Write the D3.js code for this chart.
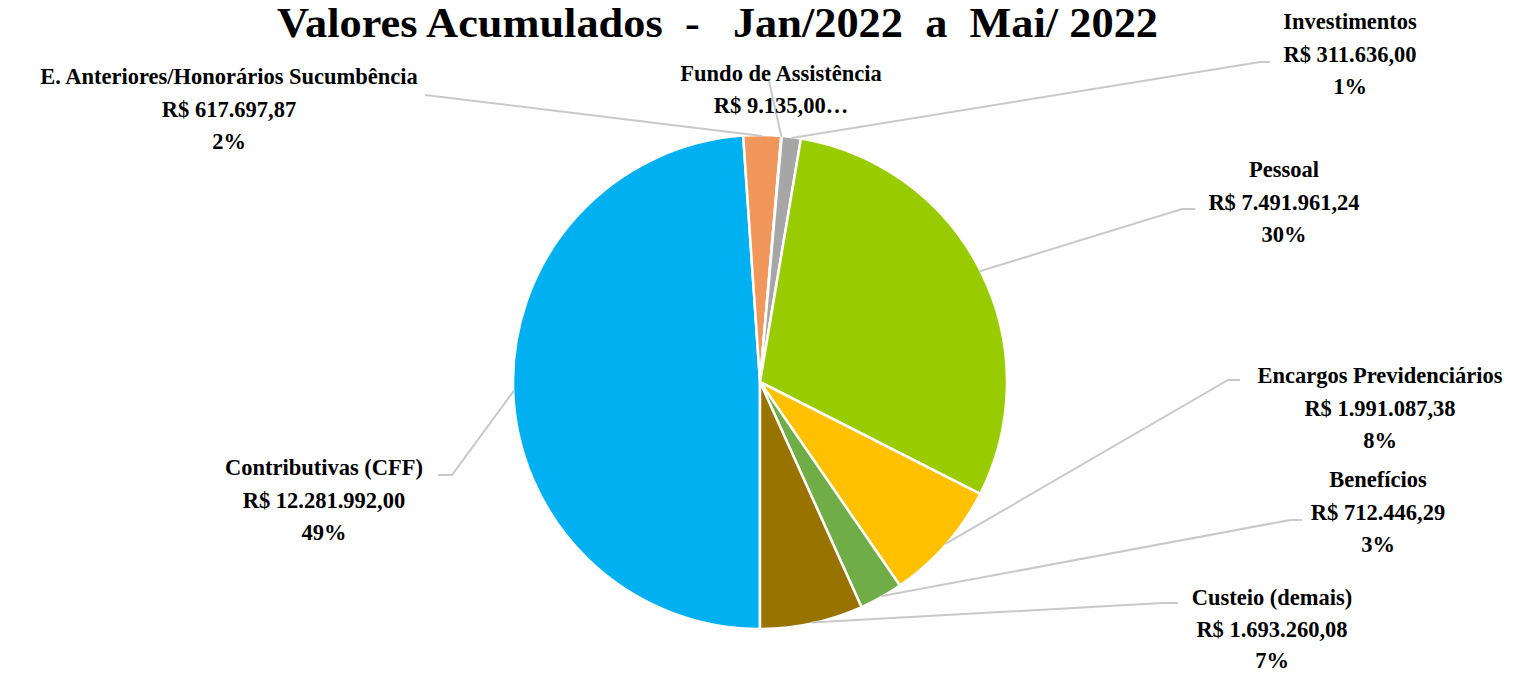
<!DOCTYPE html>
<html>
<head>
<meta charset="utf-8">
<script src="https://cdn.jsdelivr.net/npm/d3@7"></script>
<style>
  html, body { margin: 0; padding: 0; background: #fff; }
  svg { display: block; }
  text { font-family: "Liberation Serif", "DejaVu Serif", serif; font-weight: bold; fill: #000; }
</style>
</head>
<body>
<script>
// ---- data ----
const categories = [
  "Contributivas (CFF)",
  "E. Anteriores/Honorários Sucumbência",
  "Fundo de Assistência",
  "Investimentos",
  "Pessoal",
  "Encargos Previdenciários",
  "Benefícios",
  "Custeio (demais)"
];
const values = [12281992.00, 617697.87, 9135.00, 311636.00, 7491961.24, 1991087.38, 712446.29, 1693260.08];
const colors = ["#00B0F0", "#F2975B", "#D9D9D9", "#A6A6A6", "#99CC00", "#FFC000", "#70AD47", "#997300"];
const title = "Valores Acumulados  -   Jan/2022  a  Mai/ 2022";

// ---- layout (positions of labels and leader-line elbows) ----
const W = 1524, H = 674;
const cx = 760, cy = 382, R = 247;
const labelLayout = {
  "Contributivas (CFF)":                  { x: 324,  y: 475, gap: 32.5, line: [[452, 475], [438, 475]] },
  "E. Anteriores/Honorários Sucumbência": { x: 229,  y: 84,  gap: 32.5, line: [[425, 95]] },
  "Fundo de Assistência":                 { x: 781,  y: 81,  gap: 32,   line: [[769, 81]], truncated: true },
  "Investimentos":                        { x: 1350, y: 29,  gap: 32.5, line: [[1260, 62], [1270, 62]] },
  "Pessoal":                              { x: 1284, y: 177, gap: 32.5, line: [[1182, 209], [1195, 209]] },
  "Encargos Previdenciários":             { x: 1380, y: 383, gap: 32.5, line: [[1228, 380], [1240, 380]] },
  "Benefícios":                           { x: 1378, y: 487, gap: 32.5, line: [[1290, 520], [1302, 520]] },
  "Custeio (demais)":                     { x: 1272, y: 605, gap: 31.5, line: [[1162, 603], [1178, 603]] }
};

const locale = d3.formatLocale({ decimal: ",", thousands: ".", grouping: [3], currency: ["R$ ", ""] });
const fmt = locale.format(",.2f");

const svg = d3.select("body").append("svg").attr("width", W).attr("height", H);

svg.append("text")
  .attr("x", 717.5).attr("y", 37)
  .attr("text-anchor", "middle")
  .attr("font-size", 42)
  .attr("textLength", 881)
  .attr("lengthAdjust", "spacingAndGlyphs")
  .style("white-space", "pre")
  .text(title);

const data = categories.map((c, i) => ({ name: c, value: values[i], color: colors[i] }));
const total = d3.sum(values);

const pie = d3.pie().value(d => d.value).sort(null)
  .startAngle(Math.PI).endAngle(3 * Math.PI);
const arcs = pie(data);
const arc = d3.arc().innerRadius(0).outerRadius(R);

const g = svg.append("g").attr("transform", `translate(${cx},${cy})`);

// leader lines
const lineGen = d3.line();
arcs.forEach(a => {
  const L = labelLayout[a.data.name];
  const mid = (a.startAngle + a.endAngle) / 2;
  const p0 = [cx + (R - 1) * Math.sin(mid), cy - (R - 1) * Math.cos(mid)];
  svg.append("path")
    .attr("d", lineGen([p0, ...L.line]))
    .attr("fill", "none")
    .attr("stroke", "#C9C9C9")
    .attr("stroke-width", 2);
});

g.selectAll("path.slice").data(arcs).enter().append("path")
  .attr("class", "slice")
  .attr("d", arc)
  .attr("fill", d => d.data.color)
  .attr("stroke", "#fff")
  .attr("stroke-width", 2.5)
  .attr("stroke-linejoin", "round");

// labels
arcs.forEach(a => {
  const L = labelLayout[a.data.name];
  const lines = L.truncated
    ? [a.data.name, "R$ " + fmt(a.data.value) + "…"]
    : [a.data.name, "R$ " + fmt(a.data.value), Math.round(a.data.value / total * 100) + "%"];
  const t = svg.append("text")
    .attr("text-anchor", "middle")
    .attr("font-size", 22.5);
  lines.forEach((s, i) => {
    t.append("tspan").attr("x", L.x).attr("y", L.y + i * L.gap).text(s);
  });
});
</script>
</body>
</html>
